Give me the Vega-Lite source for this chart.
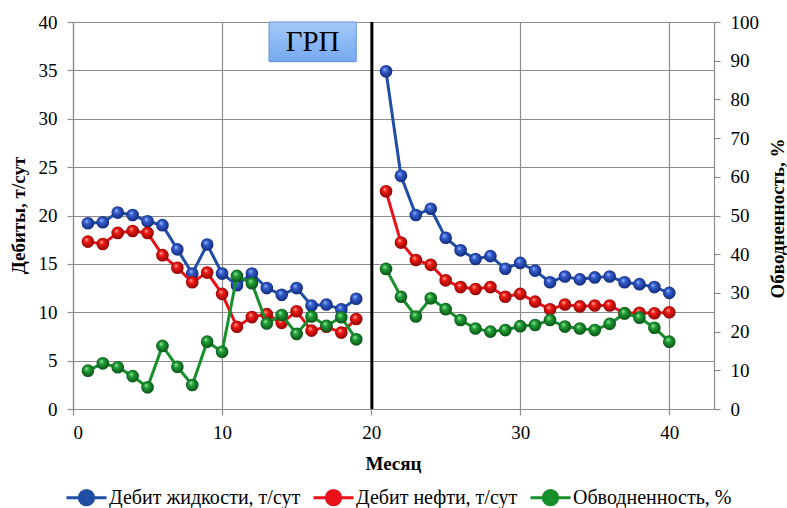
{
  "$schema": "https://vega.github.io/schema/vega-lite/v6.json",
  "autosize": {"type": "none"},
  "width": 641,
  "height": 387,
  "padding": {"left": 73, "top": 22, "right": 73, "bottom": 99},
  "background": "white",
  "config": {
    "view": {"stroke": null},
    "font": "Times New Roman, Liberation Serif, serif",
    "axis": {
      "labelFont": "Times New Roman, Liberation Serif, serif",
      "labelFontSize": 19,
      "labelColor": "black",
      "titleFont": "Times New Roman, Liberation Serif, serif",
      "titleFontSize": 19,
      "titleFontWeight": "bold",
      "titleColor": "black",
      "domainColor": "#8c8c8c",
      "domainWidth": 1.2,
      "tickColor": "#8c8c8c",
      "tickWidth": 1.2,
      "tickSize": 6,
      "gridColor": "#8c8c8c",
      "gridWidth": 1.2,
      "gridOpacity": 1
    },
    "legend": {
      "labelFont": "Times New Roman, Liberation Serif, serif",
      "labelFontSize": 20,
      "labelColor": "black",
      "labelLimit": 400
    }
  },
  "datasets": {
    "wells": [
      {"month": 1, "series": "Дебит жидкости, т/сут", "period": "до", "value": 19.2},
      {"month": 2, "series": "Дебит жидкости, т/сут", "period": "до", "value": 19.3},
      {"month": 3, "series": "Дебит жидкости, т/сут", "period": "до", "value": 20.3},
      {"month": 4, "series": "Дебит жидкости, т/сут", "period": "до", "value": 20.05},
      {"month": 5, "series": "Дебит жидкости, т/сут", "period": "до", "value": 19.4},
      {"month": 6, "series": "Дебит жидкости, т/сут", "period": "до", "value": 19.0},
      {"month": 7, "series": "Дебит жидкости, т/сут", "period": "до", "value": 16.5},
      {"month": 8, "series": "Дебит жидкости, т/сут", "period": "до", "value": 14.0},
      {"month": 9, "series": "Дебит жидкости, т/сут", "period": "до", "value": 17.0},
      {"month": 10, "series": "Дебит жидкости, т/сут", "period": "до", "value": 14.0},
      {"month": 11, "series": "Дебит жидкости, т/сут", "period": "до", "value": 12.8},
      {"month": 12, "series": "Дебит жидкости, т/сут", "period": "до", "value": 14.0},
      {"month": 13, "series": "Дебит жидкости, т/сут", "period": "до", "value": 12.5},
      {"month": 14, "series": "Дебит жидкости, т/сут", "period": "до", "value": 11.8},
      {"month": 15, "series": "Дебит жидкости, т/сут", "period": "до", "value": 12.5},
      {"month": 16, "series": "Дебит жидкости, т/сут", "period": "до", "value": 10.7},
      {"month": 17, "series": "Дебит жидкости, т/сут", "period": "до", "value": 10.8},
      {"month": 18, "series": "Дебит жидкости, т/сут", "period": "до", "value": 10.3},
      {"month": 19, "series": "Дебит жидкости, т/сут", "period": "до", "value": 11.4},
      {"month": 21, "series": "Дебит жидкости, т/сут", "period": "после", "value": 34.9},
      {"month": 22, "series": "Дебит жидкости, т/сут", "period": "после", "value": 24.1},
      {"month": 23, "series": "Дебит жидкости, т/сут", "period": "после", "value": 20.05},
      {"month": 24, "series": "Дебит жидкости, т/сут", "period": "после", "value": 20.7},
      {"month": 25, "series": "Дебит жидкости, т/сут", "period": "после", "value": 17.7},
      {"month": 26, "series": "Дебит жидкости, т/сут", "period": "после", "value": 16.4},
      {"month": 27, "series": "Дебит жидкости, т/сут", "period": "после", "value": 15.5},
      {"month": 28, "series": "Дебит жидкости, т/сут", "period": "после", "value": 15.8},
      {"month": 29, "series": "Дебит жидкости, т/сут", "period": "после", "value": 14.5},
      {"month": 30, "series": "Дебит жидкости, т/сут", "period": "после", "value": 15.1},
      {"month": 31, "series": "Дебит жидкости, т/сут", "period": "после", "value": 14.3},
      {"month": 32, "series": "Дебит жидкости, т/сут", "period": "после", "value": 13.1},
      {"month": 33, "series": "Дебит жидкости, т/сут", "period": "после", "value": 13.7},
      {"month": 34, "series": "Дебит жидкости, т/сут", "period": "после", "value": 13.4},
      {"month": 35, "series": "Дебит жидкости, т/сут", "period": "после", "value": 13.6},
      {"month": 36, "series": "Дебит жидкости, т/сут", "period": "после", "value": 13.7},
      {"month": 37, "series": "Дебит жидкости, т/сут", "period": "после", "value": 13.1},
      {"month": 38, "series": "Дебит жидкости, т/сут", "period": "после", "value": 12.9},
      {"month": 39, "series": "Дебит жидкости, т/сут", "period": "после", "value": 12.6},
      {"month": 40, "series": "Дебит жидкости, т/сут", "period": "после", "value": 12.0},

      {"month": 1, "series": "Дебит нефти, т/сут", "period": "до", "value": 17.3},
      {"month": 2, "series": "Дебит нефти, т/сут", "period": "до", "value": 17.05},
      {"month": 3, "series": "Дебит нефти, т/сут", "period": "до", "value": 18.2},
      {"month": 4, "series": "Дебит нефти, т/сут", "period": "до", "value": 18.4},
      {"month": 5, "series": "Дебит нефти, т/сут", "period": "до", "value": 18.2},
      {"month": 6, "series": "Дебит нефти, т/сут", "period": "до", "value": 15.9},
      {"month": 7, "series": "Дебит нефти, т/сут", "period": "до", "value": 14.6},
      {"month": 8, "series": "Дебит нефти, т/сут", "period": "до", "value": 13.1},
      {"month": 9, "series": "Дебит нефти, т/сут", "period": "до", "value": 14.1},
      {"month": 10, "series": "Дебит нефти, т/сут", "period": "до", "value": 11.9},
      {"month": 11, "series": "Дебит нефти, т/сут", "period": "до", "value": 8.5},
      {"month": 12, "series": "Дебит нефти, т/сут", "period": "до", "value": 9.5},
      {"month": 13, "series": "Дебит нефти, т/сут", "period": "до", "value": 9.8},
      {"month": 14, "series": "Дебит нефти, т/сут", "period": "до", "value": 8.9},
      {"month": 15, "series": "Дебит нефти, т/сут", "period": "до", "value": 10.1},
      {"month": 16, "series": "Дебит нефти, т/сут", "period": "до", "value": 8.1},
      {"month": 17, "series": "Дебит нефти, т/сут", "period": "до", "value": 8.5},
      {"month": 18, "series": "Дебит нефти, т/сут", "period": "до", "value": 7.9},
      {"month": 19, "series": "Дебит нефти, т/сут", "period": "до", "value": 9.3},
      {"month": 21, "series": "Дебит нефти, т/сут", "period": "после", "value": 22.5},
      {"month": 22, "series": "Дебит нефти, т/сут", "period": "после", "value": 17.2},
      {"month": 23, "series": "Дебит нефти, т/сут", "period": "после", "value": 15.4},
      {"month": 24, "series": "Дебит нефти, т/сут", "period": "после", "value": 14.9},
      {"month": 25, "series": "Дебит нефти, т/сут", "period": "после", "value": 13.3},
      {"month": 26, "series": "Дебит нефти, т/сут", "period": "после", "value": 12.6},
      {"month": 27, "series": "Дебит нефти, т/сут", "period": "после", "value": 12.4},
      {"month": 28, "series": "Дебит нефти, т/сут", "period": "после", "value": 12.6},
      {"month": 29, "series": "Дебит нефти, т/сут", "period": "после", "value": 11.6},
      {"month": 30, "series": "Дебит нефти, т/сут", "period": "после", "value": 11.9},
      {"month": 31, "series": "Дебит нефти, т/сут", "period": "после", "value": 11.1},
      {"month": 32, "series": "Дебит нефти, т/сут", "period": "после", "value": 10.3},
      {"month": 33, "series": "Дебит нефти, т/сут", "period": "после", "value": 10.8},
      {"month": 34, "series": "Дебит нефти, т/сут", "period": "после", "value": 10.6},
      {"month": 35, "series": "Дебит нефти, т/сут", "period": "после", "value": 10.7},
      {"month": 36, "series": "Дебит нефти, т/сут", "period": "после", "value": 10.7},
      {"month": 37, "series": "Дебит нефти, т/сут", "period": "после", "value": 9.9},
      {"month": 38, "series": "Дебит нефти, т/сут", "period": "после", "value": 9.95},
      {"month": 39, "series": "Дебит нефти, т/сут", "period": "после", "value": 9.9},
      {"month": 40, "series": "Дебит нефти, т/сут", "period": "после", "value": 10.0},

      {"month": 1, "series": "Обводненность, %", "period": "до", "value": 9.9},
      {"month": 2, "series": "Обводненность, %", "period": "до", "value": 11.8},
      {"month": 3, "series": "Обводненность, %", "period": "до", "value": 10.8},
      {"month": 4, "series": "Обводненность, %", "period": "до", "value": 8.5},
      {"month": 5, "series": "Обводненность, %", "period": "до", "value": 5.6},
      {"month": 6, "series": "Обводненность, %", "period": "до", "value": 16.3},
      {"month": 7, "series": "Обводненность, %", "period": "до", "value": 10.9},
      {"month": 8, "series": "Обводненность, %", "period": "до", "value": 6.2},
      {"month": 9, "series": "Обводненность, %", "period": "до", "value": 17.4},
      {"month": 10, "series": "Обводненность, %", "period": "до", "value": 14.8},
      {"month": 11, "series": "Обводненность, %", "period": "до", "value": 34.4},
      {"month": 12, "series": "Обводненность, %", "period": "до", "value": 32.5},
      {"month": 13, "series": "Обводненность, %", "period": "до", "value": 22.1},
      {"month": 14, "series": "Обводненность, %", "period": "до", "value": 24.3},
      {"month": 15, "series": "Обводненность, %", "period": "до", "value": 19.4},
      {"month": 16, "series": "Обводненность, %", "period": "до", "value": 23.9},
      {"month": 17, "series": "Обводненность, %", "period": "до", "value": 21.5},
      {"month": 18, "series": "Обводненность, %", "period": "до", "value": 23.7},
      {"month": 19, "series": "Обводненность, %", "period": "до", "value": 18.0},
      {"month": 21, "series": "Обводненность, %", "period": "после", "value": 36.2},
      {"month": 22, "series": "Обводненность, %", "period": "после", "value": 29.0},
      {"month": 23, "series": "Обводненность, %", "period": "после", "value": 23.9},
      {"month": 24, "series": "Обводненность, %", "period": "после", "value": 28.6},
      {"month": 25, "series": "Обводненность, %", "period": "после", "value": 25.8},
      {"month": 26, "series": "Обводненность, %", "period": "после", "value": 23.0},
      {"month": 27, "series": "Обводненность, %", "period": "после", "value": 20.8},
      {"month": 28, "series": "Обводненность, %", "period": "после", "value": 20.0},
      {"month": 29, "series": "Обводненность, %", "period": "после", "value": 20.4},
      {"month": 30, "series": "Обводненность, %", "period": "после", "value": 21.4},
      {"month": 31, "series": "Обводненность, %", "period": "после", "value": 21.7},
      {"month": 32, "series": "Обводненность, %", "period": "после", "value": 23.0},
      {"month": 33, "series": "Обводненность, %", "period": "после", "value": 21.3},
      {"month": 34, "series": "Обводненность, %", "period": "после", "value": 20.8},
      {"month": 35, "series": "Обводненность, %", "period": "после", "value": 20.4},
      {"month": 36, "series": "Обводненность, %", "period": "после", "value": 22.0},
      {"month": 37, "series": "Обводненность, %", "period": "после", "value": 24.7},
      {"month": 38, "series": "Обводненность, %", "period": "после", "value": 23.6},
      {"month": 39, "series": "Обводненность, %", "period": "после", "value": 21.0},
      {"month": 40, "series": "Обводненность, %", "period": "после", "value": 17.4}
    ],
    "frac": [
      {"label": "ГРП", "month": 20.05, "boxFrom": 13.15, "boxTo": 19.0, "boxLow": 35.9, "boxHigh": 40, "textX": 16.07, "textY": 37.95}
    ]
  },
  "data": {"name": "wells"},
  "layer": [
    {
      "encoding": {
        "x": {
          "field": "month", "type": "quantitative",
          "scale": {"domain": [0, 43], "nice": false, "zero": false},
          "axis": {
            "title": "Месяц",
            "values": [0, 10, 20, 30, 40],
            "grid": true,
            "labelPadding": 8,
            "titleX": 320,
            "titleY": 54,
            "titleBaseline": "middle"
          }
        }
      },
      "layer": [
        {
          "data": {"name": "frac"},
          "mark": {"type": "rule", "color": "black", "strokeWidth": 3},
          "encoding": {
            "x": {"field": "month", "type": "quantitative"},
            "y": {"datum": 0, "type": "quantitative"},
            "y2": {"datum": 40}
          }
        },
        {
          "data": {"name": "frac"},
          "mark": {
            "type": "rect",
            "stroke": "#5f92dc",
            "strokeWidth": 1,
            "fill": {
              "gradient": "linear", "x1": 0, "y1": 0, "x2": 0, "y2": 1,
              "stops": [
                {"offset": 0, "color": "#a9cbf8"},
                {"offset": 0.5, "color": "#8ab8f4"},
                {"offset": 1, "color": "#78aaf0"}
              ]
            }
          },
          "encoding": {
            "x": {"field": "boxFrom", "type": "quantitative"},
            "x2": {"field": "boxTo"},
            "y": {"field": "boxLow", "type": "quantitative"},
            "y2": {"field": "boxHigh"}
          }
        },
        {
          "data": {"name": "frac"},
          "mark": {"type": "text", "font": "Times New Roman, Liberation Serif, serif", "fontSize": 29, "color": "black", "baseline": "middle", "align": "center"},
          "encoding": {
            "x": {"field": "textX", "type": "quantitative"},
            "y": {"field": "textY", "type": "quantitative"},
            "text": {"field": "label"}
          }
        },
        {
          "transform": [{"filter": "datum.series === 'Дебит жидкости, т/сут'"}],
          "mark": {"type": "line", "strokeWidth": 3},
          "encoding": {
            "y": {"field": "value", "type": "quantitative"},
            "detail": {"field": "period"},
            "color": {"field": "series", "type": "nominal"}
          }
        },
        {
          "transform": [{"filter": "datum.series === 'Дебит жидкости, т/сут'"}],
          "mark": {
            "type": "point", "shape": "circle", "size": 160, "filled": true, "opacity": 1, "strokeWidth": 0,
            "fill": {
              "gradient": "radial", "x1": 0.38, "y1": 0.32, "r1": 0, "x2": 0.5, "y2": 0.5, "r2": 0.6,
              "stops": [
                {"offset": 0, "color": "#a8c0ff"},
                {"offset": 0.3, "color": "#3560d0"},
                {"offset": 1, "color": "#0a1c66"}
              ]
            }
          },
          "encoding": {
            "y": {"field": "value", "type": "quantitative"}
          }
        },
        {
          "transform": [{"filter": "datum.series === 'Дебит нефти, т/сут'"}],
          "mark": {"type": "line", "strokeWidth": 3},
          "encoding": {
            "y": {"field": "value", "type": "quantitative"},
            "detail": {"field": "period"},
            "color": {"field": "series", "type": "nominal"}
          }
        },
        {
          "transform": [{"filter": "datum.series === 'Дебит нефти, т/сут'"}],
          "mark": {
            "type": "point", "shape": "circle", "size": 160, "filled": true, "opacity": 1, "strokeWidth": 0,
            "fill": {
              "gradient": "radial", "x1": 0.38, "y1": 0.32, "r1": 0, "x2": 0.5, "y2": 0.5, "r2": 0.6,
              "stops": [
                {"offset": 0, "color": "#ffc0b8"},
                {"offset": 0.3, "color": "#f21a14"},
                {"offset": 1, "color": "#780000"}
              ]
            }
          },
          "encoding": {
            "y": {
              "field": "value", "type": "quantitative",
              "scale": {"domain": [0, 40], "nice": false},
              "axis": {
                "title": "Дебиты, т/сут",
                "values": [0, 5, 10, 15, 20, 25, 30, 35, 40],
                "grid": true,
                "labelPadding": 10,
                "titleAngle": 270,
                "titleX": -55,
                "titleY": 193,
                "titleAlign": "center",
                "titleBaseline": "middle"
              }
            }
          }
        }
      ]
    },
    {
      "transform": [{"filter": "datum.series === 'Обводненность, %'"}],
      "encoding": {
        "x": {"field": "month", "type": "quantitative"},
        "y": {
          "field": "value", "type": "quantitative",
          "scale": {"domain": [0, 100], "nice": false},
          "axis": {
            "orient": "right",
            "title": "Обводненность, %",
            "values": [0, 10, 20, 30, 40, 50, 60, 70, 80, 90, 100],
            "grid": false,
            "labelPadding": 10,
            "titleAngle": 270,
            "titleX": 63,
            "titleY": 196,
            "titleAlign": "center",
            "titleBaseline": "middle"
          }
        }
      },
      "layer": [
        {
          "mark": {"type": "line", "strokeWidth": 3},
          "encoding": {
            "detail": {"field": "period"},
            "color": {
              "field": "series", "type": "nominal",
              "scale": {
                "domain": ["Дебит жидкости, т/сут", "Дебит нефти, т/сут", "Обводненность, %"],
                "range": ["#1f4ea5", "#e8111a", "#17902c"]
              },
              "legend": {
                "title": null,
                "orient": "none",
                "direction": "horizontal",
                "legendX": -8,
                "legendY": 454,
                "columnPadding": 6,
                "labelOffset": 1,
                "symbolType": "M-1,0H-0.36M0.36,0H1M-0.36,0A0.36,0.36,0,1,1,0.36,0A0.36,0.36,0,1,1,-0.36,0Z",
                "symbolSize": 1600,
                "symbolStrokeWidth": 3,
                "encode": {
                  "symbols": {
                    "update": {
                      "fill": {"scale": "color", "field": "value"},
                      "stroke": {"scale": "color", "field": "value"},
                      "opacity": {"value": 1}
                    }
                  }
                }
              }
            }
          }
        },
        {
          "mark": {
            "type": "point", "shape": "circle", "size": 160, "filled": true, "opacity": 1, "strokeWidth": 0,
            "fill": {
              "gradient": "radial", "x1": 0.38, "y1": 0.32, "r1": 0, "x2": 0.5, "y2": 0.5, "r2": 0.6,
              "stops": [
                {"offset": 0, "color": "#b0f0b0"},
                {"offset": 0.3, "color": "#22a23a"},
                {"offset": 1, "color": "#03400c"}
              ]
            }
          }
        }
      ]
    }
  ],
  "resolve": {"scale": {"y": "independent"}}
}
